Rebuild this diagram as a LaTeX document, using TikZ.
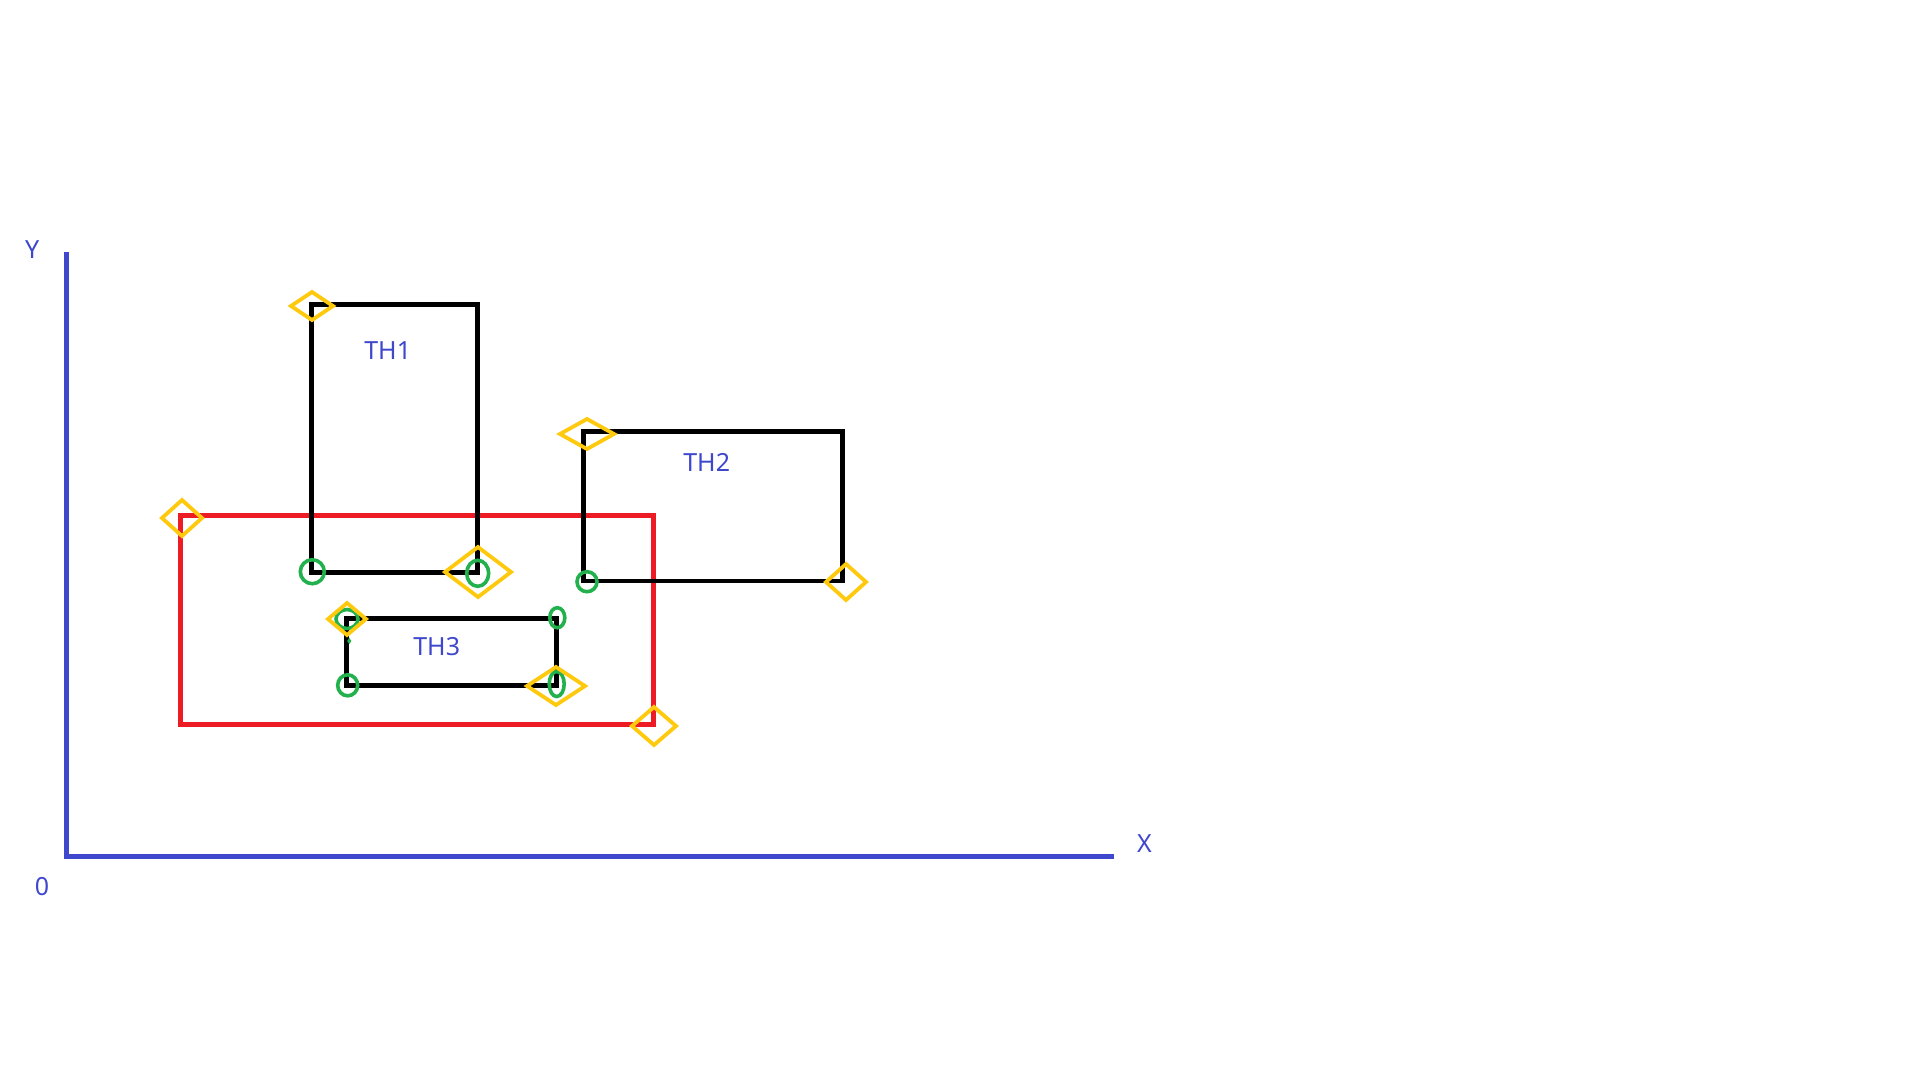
\documentclass[tikz,border=0pt]{standalone}
\usepackage{fontspec}
\setmainfont{Noto Sans}
\definecolor{indigo}{HTML}{3F48CC}
\definecolor{pred}{HTML}{ED1C24}
\definecolor{gold}{HTML}{FFC90E}
\definecolor{pgreen}{HTML}{22B14C}
\tikzset{
  axisline/.style={draw=indigo, line width=5pt},
  redbox/.style={draw=pred, line width=4.5pt},
  blackbox/.style={draw=black, line width=4.5pt},
  lbl/.style={text=indigo, inner sep=0pt, font=\fontsize{25}{30}\selectfont},
  goldmark/.style={draw=gold, line width=3.8pt, line join=miter},
  greenmark/.style={draw=pgreen, line width=3.6pt},
}
\newcommand{\mydiamond}[3]{\draw[goldmark] (#1) ++(-#2,0) -- ++(#2,#3) -- ++(#2,-#3) -- ++(-#2,-#3) -- cycle;}
\begin{document}
\begin{tikzpicture}[x=1pt,y=-1pt]
\path[use as bounding box, fill=white] (0,0) rectangle (1920,1080);
% axes
\coordinate (O) at (66.3,856);
\coordinate (Ytop) at (66.3,252);
\coordinate (Xend) at (1114,856);
\draw[axisline] (Ytop) -- (O) -- (Xend);
\node[lbl] (ylbl) at (32.3,249.3) {Y};
\node[lbl] (xlbl) at (1144.5,844) {X};
\node[lbl] (olbl) at (42,886.7) {0};
% red box
\coordinate (R1) at (180.7,515.7);
\coordinate (R2) at (653.3,724.3);
\draw[redbox] (R1) rectangle (R2);
% black boxes
\coordinate (A1) at (311.7,304.3);
\coordinate (A2) at (477.7,572.7);
\coordinate (B1) at (583.3,431.7);
\coordinate (B2) at (842.3,581);
\coordinate (C1) at (346.7,618.3);
\coordinate (C2) at (556.7,685.3);
\draw[blackbox] (A1) rectangle (A2);
\draw[blackbox] (B1) rectangle (B2);
\draw[blackbox] (C1) rectangle (C2);
\node[lbl] (th1) at (387.7,350.7) {TH1};
\node[lbl] (th2) at (706.7,462.7) {TH2};
\node[lbl] (th3) at (436.7,646.7) {TH3};
% green circles
\draw[greenmark] (312.3,571.7) ellipse [x radius=12, y radius=12];
\draw[greenmark] (477.7,573.3) ellipse [x radius=11, y radius=13];
\draw[greenmark] (587,581.7) ellipse [x radius=10, y radius=10];
\draw[greenmark] (347,619) ellipse [x radius=11, y radius=9.5];
\draw[greenmark, line width=1.5pt] (349.3,641) ellipse [x radius=1.2, y radius=1.8];
\draw[greenmark] (557.3,617.7) ellipse [x radius=7.5, y radius=10];
\draw[greenmark] (347.7,685.3) ellipse [x radius=10, y radius=10.5];
\draw[greenmark] (556.7,684) ellipse [x radius=7.5, y radius=12.5];
% gold diamonds
\coordinate (d1) at (312,306);
\coordinate (d2) at (182,518);
\coordinate (d3) at (478,572);
\coordinate (d4) at (587,434);
\coordinate (d5) at (846,582);
\coordinate (d6) at (347,619);
\coordinate (d7) at (556,686);
\coordinate (d8) at (654,726);
\mydiamond{d1}{21}{14}
\mydiamond{d2}{20}{18}
\mydiamond{d3}{33}{25}
\mydiamond{d4}{27}{15}
\mydiamond{d5}{20}{18}
\mydiamond{d6}{19}{16}
\mydiamond{d7}{29}{19}
\mydiamond{d8}{22}{19}
\end{tikzpicture}
\end{document}
